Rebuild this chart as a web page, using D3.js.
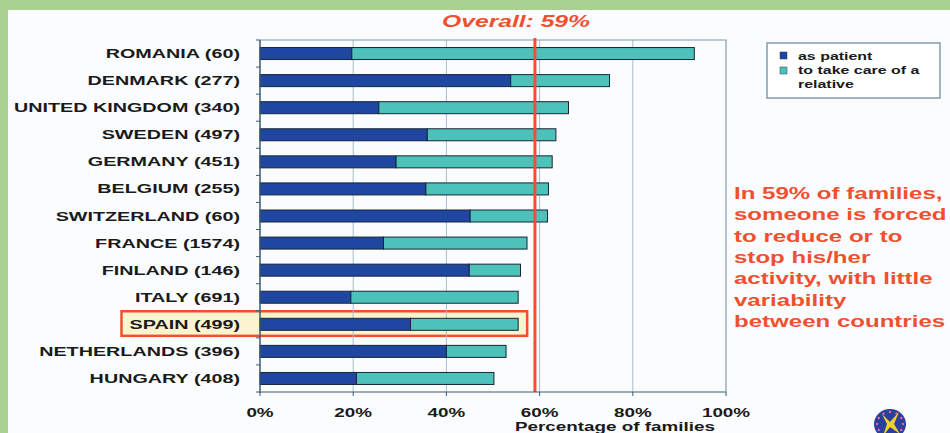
<!DOCTYPE html>
<html>
<head>
<meta charset="utf-8">
<script src="https://cdn.jsdelivr.net/npm/d3@7"></script>
<style>
  html, body { margin: 0; padding: 0; background: #a9d18f; }
  svg { display: block; }
  text { font-family: "Liberation Sans", Arial, sans-serif; font-weight: bold; }
</style>
</head>
<body>
<svg id="chart" width="950" height="433"></svg>
<script>
// Countries (with number of families surveyed), top to bottom
const countries = [
  "ROMANIA (60)", "DENMARK (277)", "UNITED KINGDOM (340)", "SWEDEN (497)",
  "GERMANY (451)", "BELGIUM (255)", "SWITZERLAND (60)", "FRANCE (1574)",
  "FINLAND (146)", "ITALY (691)", "SPAIN (499)", "NETHERLANDS (396)", "HUNGARY (408)"
];
// % of families where someone reduced/stopped activity as patient
const asPatient = [19.7, 53.8, 25.5, 35.9, 29.2, 35.6, 45.1, 26.5, 44.9, 19.5, 32.3, 40.0, 20.7];
// % of families where someone reduced/stopped activity to care for a relative
const asCarer = [73.5, 21.2, 40.7, 27.6, 33.5, 26.3, 16.6, 30.8, 11.0, 35.9, 23.1, 12.8, 29.5];
const seriesNames = ["as patient", "to take care of a relative"];
const overall = 59;
const xTicks = [0, 20, 40, 60, 80, 100];
const highlighted = "SPAIN (499)";
const noteLines = [
  "In 59% of families,", "someone is forced", "to reduce or to",
  "stop his/her", "activity, with little", "variability", "between countries"
];

const STRETCH = 1.45;   // wide lettering used throughout
const C_PATIENT = "#1f47a1", C_CARER = "#4dc2ba", C_RED = "#f0502f";

const svg = d3.select("#chart");
// white panel inside the green frame
svg.append("rect").attr("x", 8).attr("y", 10).attr("width", 942).attr("height", 423).attr("fill", "#fbfcfe");

const x = d3.scaleLinear().domain([0, 100]).range([260, 726]);
const y = d3.scaleBand().domain(countries).range([40, 392]);
const barH = 12;

// stretched text helper
function wideText(g, px, py, str, size, anchor, color, italic, stretch) {
  const t = g.append("text")
    .attr("transform", `translate(${px},${py}) scale(${stretch || STRETCH},1)`)
    .attr("text-anchor", anchor || "start")
    .attr("font-size", size)
    .attr("fill", color || "#1a1a1a")
    .text(str);
  if (italic) t.attr("font-style", "italic");
  return t;
}

// highlight box behind Spain row
const hy = y(highlighted);
const hiIdx = countries.indexOf(highlighted);
const hiRect = svg.append("rect")
  .attr("y", hy + 0.5).attr("height", y.bandwidth() - 2.5)
  .attr("fill", "#fcf3cf").attr("stroke", C_RED).attr("stroke-width", 2.5);

// gridlines
svg.append("g").selectAll("line").data(xTicks.slice(1, -1)).join("line")
  .attr("x1", d => x(d)).attr("x2", d => x(d))
  .attr("y1", 40).attr("y2", 392)
  .attr("stroke", "#a9bdcc").attr("stroke-width", 1);
// plot frame (top + right)
svg.append("path")
  .attr("d", `M${x(0)},40H${x(100)}V392`)
  .attr("fill", "none").attr("stroke", "#7f9bb0").attr("stroke-width", 1.2);

// stacked bars
const rows = svg.append("g").selectAll("g").data(countries).join("g");
rows.append("rect")
  .attr("x", x(0)).attr("y", d => y(d) + (y.bandwidth() - barH) / 2)
  .attr("width", (d, i) => x(asPatient[i]) - x(0)).attr("height", barH)
  .attr("fill", C_PATIENT).attr("stroke", "#15263a").attr("stroke-width", 1);
rows.append("rect")
  .attr("x", (d, i) => x(asPatient[i])).attr("y", d => y(d) + (y.bandwidth() - barH) / 2)
  .attr("width", (d, i) => x(asPatient[i] + asCarer[i]) - x(asPatient[i])).attr("height", barH)
  .attr("fill", C_CARER).attr("stroke", "#15263a").attr("stroke-width", 1);

// overall reference line
svg.append("line")
  .attr("x1", x(overall)).attr("x2", x(overall)).attr("y1", 38).attr("y2", 392)
  .attr("stroke", C_RED).attr("stroke-width", 3);

// y axis with ticks between categories
const yAxisG = svg.append("g");
yAxisG.append("line").attr("x1", x(0)).attr("x2", x(0)).attr("y1", 40).attr("y2", 393)
  .attr("stroke", "#3d5a70").attr("stroke-width", 1.5);
yAxisG.selectAll(".tk").data(d3.range(countries.length + 1)).join("line")
  .attr("x1", x(0) - 4).attr("x2", x(0))
  .attr("y1", i => 40 + i * y.step()).attr("y2", i => 40 + i * y.step())
  .attr("stroke", "#3d5a70").attr("stroke-width", 1);

// x axis
const xAxisG = svg.append("g");
xAxisG.append("line").attr("x1", x(0)).attr("x2", x(100)).attr("y1", 392).attr("y2", 392)
  .attr("stroke", "#3d5a70").attr("stroke-width", 1.2);
xAxisG.selectAll(".tk").data(xTicks).join("line")
  .attr("x1", d => x(d)).attr("x2", d => x(d)).attr("y1", 392).attr("y2", 396)
  .attr("stroke", "#3d5a70").attr("stroke-width", 1);
xTicks.forEach(d => wideText(xAxisG, x(d), 417, d + "%", 13, "middle", "#1a1a1a"));
wideText(svg, 615, 431, "Percentage of families", 13, "middle", "#1a1a1a");

// category labels
const LABEL_STRETCH = 1.52;
const labG = svg.append("g");
let hiLeft = 0;
countries.forEach(c => {
  const t = wideText(labG, 240, y(c) + y.bandwidth() / 2 + 4.5, c, 13, "end", "#1a1a1a", false, LABEL_STRETCH);
  if (c === highlighted) hiLeft = 240 - t.node().getBBox().width * LABEL_STRETCH;
});
hiRect.attr("x", hiLeft - 8)
  .attr("width", x(asPatient[hiIdx] + asCarer[hiIdx]) + 9 - (hiLeft - 8));

// title
wideText(svg, 516, 27, "Overall: " + overall + "%", 17, "middle", C_RED, true);

// legend
const lg = svg.append("g");
lg.append("rect").attr("x", 767).attr("y", 43).attr("width", 173).attr("height", 55)
  .attr("fill", "#ffffff").attr("stroke", "#7f9bb0").attr("stroke-width", 1.5);
[C_PATIENT, C_CARER].forEach((col, i) => {
  lg.append("rect").attr("x", 780).attr("y", 52 + i * 15).attr("width", 7).attr("height", 7)
    .attr("fill", col).attr("stroke", "#2a3a5a").attr("stroke-width", 0.5);
});
wideText(lg, 798, 60, seriesNames[0], 11, "start", "#1a1a1a");
wideText(lg, 798, 74, "to take care of a", 11, "start", "#1a1a1a");
wideText(lg, 798, 88, "relative", 11, "start", "#1a1a1a");

// note
noteLines.forEach((l, i) => wideText(svg, 734, 199 + i * 21.3, l, 16.6, "start", C_RED));

// emblem at bottom right
const em = svg.append("g").attr("transform", "translate(890,424)");
em.append("ellipse").attr("rx", 16).attr("ry", 15).attr("fill", "#2b3f9c");
em.selectAll("circle").data(d3.range(12)).join("circle")
  .attr("cx", i => 13 * Math.cos(i * Math.PI / 6)).attr("cy", i => 12 * Math.sin(i * Math.PI / 6))
  .attr("r", 1.2).attr("fill", "#e86a8a");
em.append("path").attr("d", "M-8,-10 L0,-2 L9,-12 L4,0 L10,10 L0,3 L-7,12 L-3,0 Z")
  .attr("fill", "#f5cf2a");
</script>
</body>
</html>
